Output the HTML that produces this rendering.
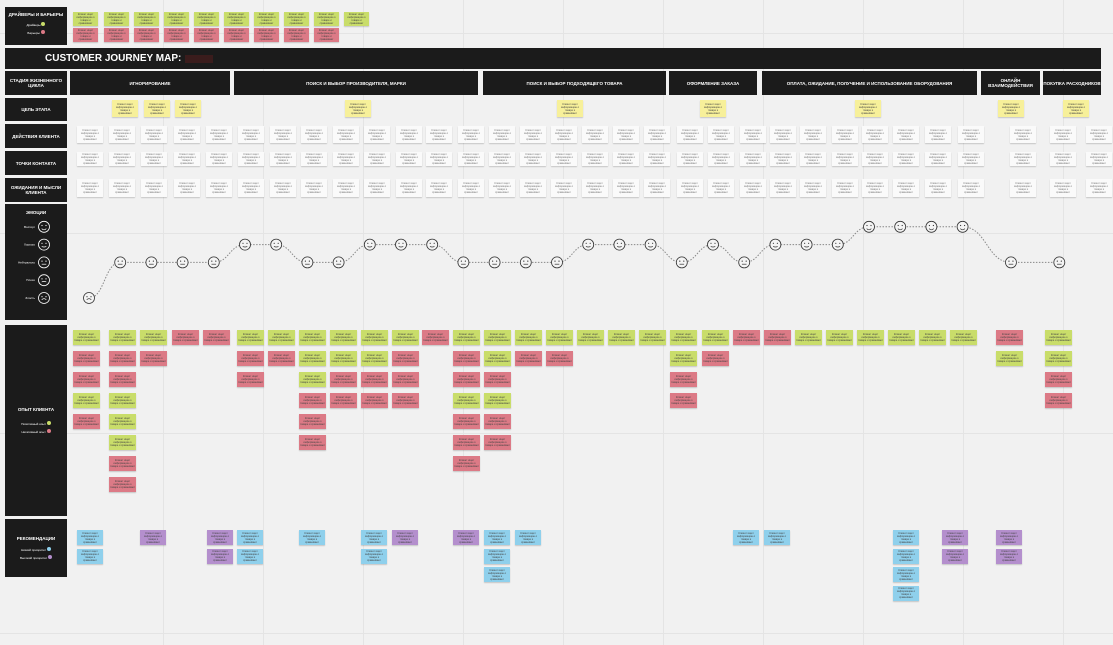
<!DOCTYPE html>
<html><head><meta charset="utf-8">
<style>
body{margin:0;width:1113px;height:645px;overflow:hidden;background:#f1f1f1;font-family:"Liberation Sans","Noto Sans CJK SC",sans-serif;position:relative}
.abs{position:absolute}
.blk{position:absolute;background:#1b1b1b;color:#fff;font-size:4.5px;font-weight:bold;display:flex;align-items:center;justify-content:center;text-align:center;box-sizing:border-box}
.note{position:absolute;box-shadow:0 1px 1px rgba(0,0,0,.18);font-size:2.6px;line-height:3px;color:#444;display:flex;align-items:center;justify-content:center;text-align:center;overflow:hidden;padding:1px;box-sizing:border-box}
.g{background:#c9dd6a}.r{background:#dc7a86}.w{background:#fafafa;color:#777}.y{background:#f7f09a}.b{background:#8fd0ec}.p{background:#b48fcd}
.vl{position:absolute;top:0;width:1px;height:645px;background:#e4e4e4}
.hl{position:absolute;left:0;height:1px;width:1113px;background:#e4e4e4}
</style></head><body>
<div id="grid"></div>
<div class="blk" style="left:5px;top:7px;width:62px;height:38px;flex-direction:column;justify-content:flex-start;padding-top:5px">ДРАЙВЕРЫ И БАРЬЕРЫ
<div style="font-size:3px;font-weight:normal;margin-top:5px">Драйверы <span style="display:inline-block;width:4px;height:4px;border-radius:50%;background:#c9dd6a"></span></div>
<div style="font-size:3px;font-weight:normal;margin-top:3px">Барьеры <span style="display:inline-block;width:4px;height:4px;border-radius:50%;background:#dc7a86"></span></div></div>
<div class="blk" style="left:5px;top:48px;width:1096px;height:21px;justify-content:flex-start;padding-left:40px;font-size:10px">CUSTOMER JOURNEY MAP:<span style="display:inline-block;width:28px;height:8px;background:#3a1c1c;margin-left:4px"></span></div>
<div class="blk" style="left:5px;top:71px;width:62px;height:24px">СТАДИЯ ЖИЗНЕННОГО ЦИКЛА</div>
<div class="blk" style="left:5px;top:98px;width:62px;height:23px">ЦЕЛЬ ЭТАПА</div>
<div class="blk" style="left:5px;top:124px;width:62px;height:24px">ДЕЙСТВИЯ КЛИЕНТА</div>
<div class="blk" style="left:5px;top:151px;width:62px;height:24px">ТОЧКИ КОНТАКТА</div>
<div class="blk" style="left:5px;top:178px;width:62px;height:24px">ОЖИДАНИЯ И МЫСЛИ КЛИЕНТА</div>
<div class="blk" style="left:5px;top:204px;width:62px;height:116px;align-items:flex-start;padding-top:6px">ЭМОЦИИ</div>
<div class="blk" style="left:5px;top:325px;width:62px;height:191px;flex-direction:column">ОПЫТ КЛИЕНТА
<div style="font-size:3px;font-weight:normal;margin-top:9px">Позитивный опыт <span style="display:inline-block;width:4px;height:4px;border-radius:50%;background:#c9dd6a"></span></div>
<div style="font-size:3px;font-weight:normal;margin-top:3px">Негативный опыт <span style="display:inline-block;width:4px;height:4px;border-radius:50%;background:#dc7a86"></span></div></div>
<div class="blk" style="left:5px;top:519px;width:62px;height:58px;flex-direction:column">РЕКОМЕНДАЦИИ
<div style="font-size:3px;font-weight:normal;margin-top:6px">Низкий приоритет <span style="display:inline-block;width:4px;height:4px;border-radius:50%;background:#8fd0ec"></span></div>
<div style="font-size:3px;font-weight:normal;margin-top:3px">Высокий приоритет <span style="display:inline-block;width:4px;height:4px;border-radius:50%;background:#b48fcd"></span></div></div>
<div id="stages"></div><div id="notes"></div>
<svg class="abs" style="left:0;top:0" width="1113" height="645" id="emo"></svg>
<script>
const stageNames=["ИГНОРИРОВАНИЕ","ПОИСК И ВЫБОР ПРОИЗВОДИТЕЛЯ, МАРКИ","ПОИСК И ВЫБОР ПОДХОДЯЩЕГО ТОВАРА","ОФОРМЛЕНИЕ ЗАКАЗА","ОПЛАТА, ОЖИДАНИЕ, ПОЛУЧЕНИЕ И ИСПОЛЬЗОВАНИЕ ОБОРУДОВАНИЯ","ОНЛАЙН ВЗАИМОДЕЙСТВИЯ","ПОКУПКА РАСХОДНИКОВ"];
const stageStart=[70,234,483,669,762,981,1043];
const stageEnd=[230,478,666,757,977,1040,1101];
const emotionLevels=["Восторг","Хорошо","Нейтрально","Плохо","Злость"];
const emotionSteps=[0,1,2,3,4,5,6,7,8,9,10,11,12,13,14,15,16,17,18,19,20,21,22,23,24,25,26,27,28,29.55,31.1];
const emotionValues=[0,2,2,2,2,3,3,2,2,3,3,3,2,2,2,2,3,3,3,2,3,2,3,3,3,4,4,4,4,2,2];
const expCols=[73,109,140,172,203,237,268,299,330,361,392,422,453,484,515,546,577,608,639,670,702,733,764,795,826,857,888,919,950,996,1045];
const expStacks=["GRRGR","GRRGGGRR","GR","R","R","GRR","GR","GGGRRR","GGRR","GGRR","GRRR","R","GRRGRRR","GGRGRR","GR","GR","G","G","G","GGRR","GR","R","R","G","G","G","G","G","G","RG","GGRR"];
const recCols=[77,140,207,237,299,361,392,453,484,515,733,764,893,942,996];
const recStacks=["BB","P","PP","BB","B","BB","P","P","BBB","B","B","B","BBBB","PP","PP"];
const actCols=[77,109,141,174,206,238,270,301,333,364,396,426,458,489,520,551,582,613,644,677,708,740,770,800,832,862,893,925,958,1010,1050,1086];
const goalCols=[112,144,175,345,557,700,855,998,1063];
const drvCols=[73,104,134,164,194,224,254,284,314,344];
const drvRed=[1,1,1,1,1,1,1,1,1,0];

const st=document.getElementById('stages');
stageNames.forEach((n,i)=>{const d=document.createElement('div');d.className='blk';


d.style.cssText=`left:${stageStart[i]}px;top:71px;width:${stageEnd[i]-stageStart[i]}px;height:24px`;d.textContent=n;st.appendChild(d);});
const nt=document.getElementById('notes');
const txt='Клиент ищет информацию о товаре и сравнивает';
function note(cls,x,y,w,h,name){const d=document.createElement('div');d.className='note '+cls;


d.style.cssText=`left:${x}px;top:${y}px;width:${w}px;height:${h}px`;d.textContent=txt;nt.appendChild(d);}
drvCols.forEach((x,i)=>{note('g',x,12,25,14,'driver-note');if(drvRed[i])note('r',x,28,25,14,'barrier-note');});
goalCols.forEach(x=>note('y',x,100,26,17,'stage-goal-note'));
actCols.forEach(x=>{note('w',x,126,26,17,'client-action-note');note('w',x,152,26,14,'touchpoint-note');note('w',x,179,26,18,'expectation-note');});
expCols.forEach((x,i)=>{[...expStacks[i]].forEach((c,j)=>note(c=='G'?'g':'r',x,330+j*21,27,15,c=='G'?'positive-experience-note':'negative-experience-note'));});
recCols.forEach((x,i)=>{[...recStacks[i]].forEach((c,j)=>note(c=='B'?'b':'p',x,530+j*18.5,26,15,c=='B'?'low-priority-recommendation':'high-priority-recommendation'));});
const g=document.getElementById('grid');
[163,263,363,463,563,663,763,863,963,1063].forEach(x=>{const d=document.createElement('div');d.className='vl';d.style.left=x+'px';


g.appendChild(d);});
[33,233,433,633].forEach(y=>{const d=document.createElement('div');d.className='hl';d.style.top=y+'px';


g.appendChild(d);});

const svg=document.getElementById('emo');const NS='http://www.w3.org/2000/svg';
const xS=s=>89+s*31.2;const yS=v=>298-v*17.8;
function face(cx,cy,v,name,dark){const col=dark?'#fff':'#333';const gg=document.createElementNS(NS,'g');


const c=document.createElementNS(NS,'circle');c.setAttribute('cx',cx);c.setAttribute('cy',cy);c.setAttribute('r',5.5);c.setAttribute('fill',dark?'none':'#f4f4f4');c.setAttribute('stroke',col);c.setAttribute('stroke-width','0.8');gg.appendChild(c);
[-2,2].forEach(dx=>{const e=document.createElementNS(NS,'circle');e.setAttribute('cx',cx+dx);e.setAttribute('cy',cy-1.3);e.setAttribute('r',0.6);e.setAttribute('fill',col);gg.appendChild(e);});
const m=document.createElementNS(NS,'path');const curv=(v-2)*1.2;
m.setAttribute('d',`M${cx-2.3},${cy+1.8} Q${cx},${cy+1.8+curv} ${cx+2.3},${cy+1.8}`);m.setAttribute('stroke',col);m.setAttribute('fill','none');m.setAttribute('stroke-width','0.7');gg.appendChild(m);svg.appendChild(gg);}
let d='';emotionSteps.forEach((s,i)=>{const x=xS(s),y=yS(emotionValues[i]);if(i==0)d=`M${x},${y}`;else{const px=xS(emotionSteps[i-1]),py=yS(emotionValues[i-1]);const mx=(px+x)/2;d+=` C${mx},${py} ${mx},${y} ${x},${y}`;}});
const p=document.createElementNS(NS,'path');p.setAttribute('d',d);p.setAttribute('fill','none');p.setAttribute('stroke','#888');p.setAttribute('stroke-width','1');p.setAttribute('stroke-dasharray','1.5 1.5');


svg.appendChild(p);
emotionSteps.forEach((s,i)=>face(xS(s),yS(emotionValues[i]),emotionValues[i],'emotion-point',false));
emotionLevels.forEach((n,i)=>{const v=4-i;face(44,yS(v),v,'emotion-legend-face',true);const t=document.createElementNS(NS,'text');t.setAttribute('x',35);t.setAttribute('y',yS(v)+1);t.setAttribute('fill','#fff');t.setAttribute('font-size','3');t.setAttribute('text-anchor','end');t.textContent=n;


svg.appendChild(t);});
</script>
</body></html>
